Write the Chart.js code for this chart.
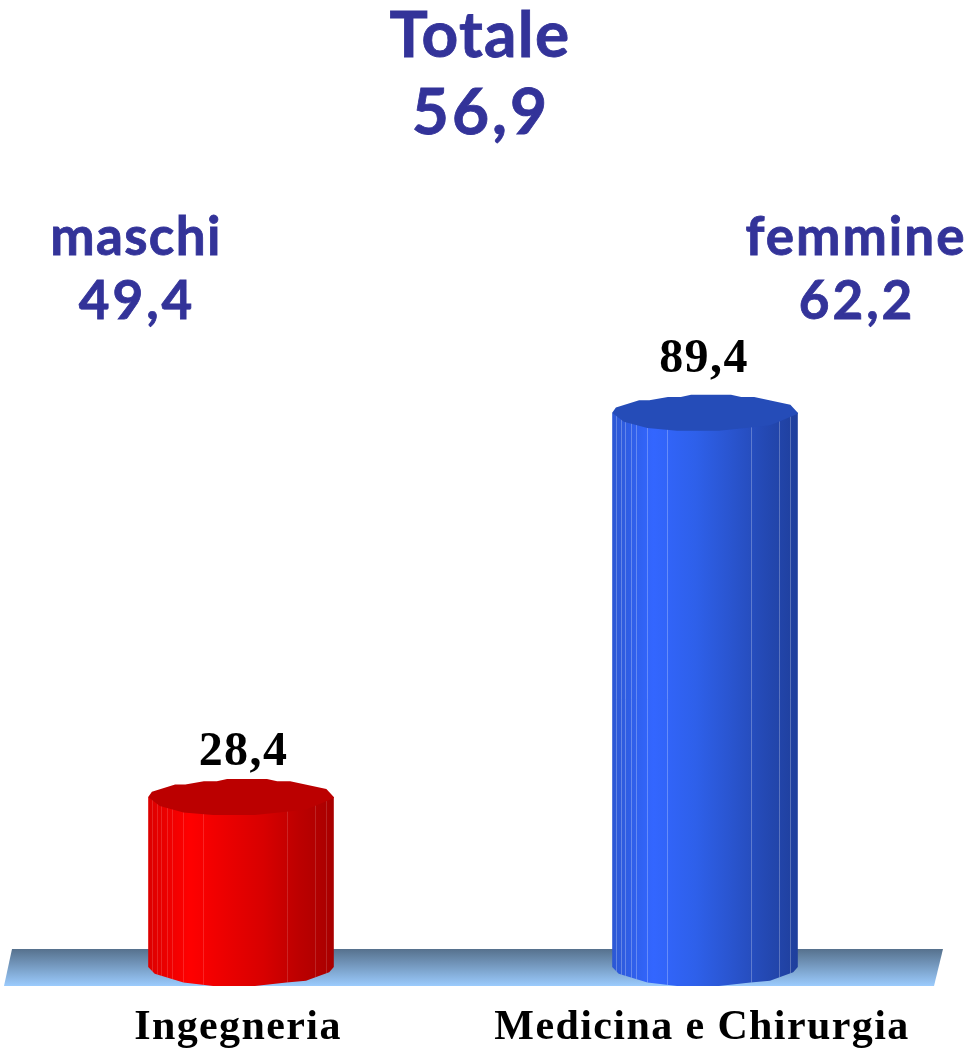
<!DOCTYPE html>
<html lang="it">
<head>
    <meta charset="UTF-8">
    <title>Ingegneria e Medicina e Chirurgia</title>
    <script src="https://cdn.jsdelivr.net/npm/chart.js"></script>
    <style>
        html, body { margin: 0; padding: 0; background: #fff; }
        canvas { display: block; }
    </style>
</head>
<body>
    <canvas id="chart" width="969" height="1052"></canvas>
    <script>
        const categories = ['Ingegneria', 'Medicina e Chirurgia'];
        const values = [28.4, 89.4];
        const barColors = ['#e60000', '#2c5ad8'];

        const summaryLabels = ['Totale', 'maschi', 'femmine'];
        const summaryValues = ['56,9', '49,4', '62,2'];

        // colori delle facce del cilindro, da sinistra a destra
        const faceStops = [
            ['#dc0000', '#ff0000', '#e80000', '#d80000', '#bb0000', '#a80000'],
            ['#2c58d4', '#3366ff', '#2e60ea', '#2a56d2', '#2449b4', '#1f3f9c']
        ];
        const capColors = ['#bb0000', '#254cb8'];
        const stopAt = [0, 0.22, 0.45, 0.62, 0.82, 1];
        const facetLines = [0.02, 0.047, 0.068, 0.1, 0.13, 0.188, 0.296, 0.746, 0.9, 0.96];
        const facetAlpha = [0.14, 0.26];

        // profilo irregolare del disco, in unità del raggio
        const upperEdge = [[-1, 0], [-0.96, -0.3], [-0.71, -0.7], [-0.6, -0.7], [-0.4, -0.88], [-0.26, -0.88], [-0.15, -1], [0.28, -1], [0.39, -0.88], [0.53, -0.88], [0.92, -0.45], [1, 0]];
        const capLowerEdge = [[1, 0.05], [0.77, 0.55], [0.7, 0.69], [0.49, 0.82], [0.15, 1], [-0.3, 1], [-0.62, 0.85], [-0.875, 0.5], [-1, 0]];
        const bodyLowerEdge = [[-1, 0], [-0.93, 0.36], [-0.62, 0.82], [-0.3, 1], [0.15, 1], [0.49, 0.82], [0.7, 0.73], [0.95, 0.27], [1, 0]];

        const capRy = 18;
        const baseLift = 9;
        const floorTop = 949;
        const floorBottom = 986;
        const labelGap = [32, 41];
        const labelShift = [2.5, -1];

        function traceEdge(ctx, edge, cx, cy, rx, ry) {
            edge.forEach(p => ctx.lineTo(cx + p[0] * rx, cy + p[1] * ry));
        }

        function drawCylinder(ctx, bar, index) {
            const rx = bar.width / 2;
            const left = bar.x - rx;
            const baseY = bar.base - baseLift;

            const grad = ctx.createLinearGradient(left, 0, left + bar.width, 0);
            stopAt.forEach((s, i) => grad.addColorStop(s, faceStops[index][i]));

            // corpo
            ctx.beginPath();
            ctx.moveTo(left, bar.y);
            traceEdge(ctx, bodyLowerEdge, bar.x, baseY, rx, capRy + 1);
            ctx.lineTo(left + bar.width, bar.y);
            ctx.closePath();
            ctx.fillStyle = grad;
            ctx.fill();

            // righe chiare delle facce
            ctx.save();
            ctx.clip();
            ctx.strokeStyle = 'rgba(255,255,255,' + facetAlpha[index] + ')';
            ctx.lineWidth = 1;
            facetLines.forEach(f => {
                const x = Math.round(left + f * bar.width) + 0.5;
                ctx.beginPath();
                ctx.moveTo(x, bar.y);
                ctx.lineTo(x, baseY + capRy + 1);
                ctx.stroke();
            });
            ctx.restore();

            // disco superiore
            ctx.beginPath();
            ctx.moveTo(left, bar.y);
            traceEdge(ctx, upperEdge, bar.x, bar.y, rx, capRy);
            traceEdge(ctx, capLowerEdge, bar.x, bar.y, rx, capRy);
            ctx.closePath();
            ctx.fillStyle = capColors[index];
            ctx.fill();
        }

        const cylinderPlugin = {
            id: 'cylinder',
            beforeDraw(chart) {
                chart.ctx.letterSpacing = '1.4px';
            },
            beforeDatasetsDraw(chart) {
                const { ctx, chartArea } = chart;
                // piano azzurro
                const grad = ctx.createLinearGradient(0, floorTop, 0, floorBottom);
                grad.addColorStop(0, '#56718d');
                grad.addColorStop(1, '#9bcbfd');
                ctx.beginPath();
                ctx.moveTo(chartArea.left + 3, floorTop);
                ctx.lineTo(chartArea.right + 6, floorTop);
                ctx.lineTo(chartArea.right - 3, floorBottom);
                ctx.lineTo(chartArea.left - 5, floorBottom);
                ctx.closePath();
                ctx.fillStyle = grad;
                ctx.fill();
            },
            beforeDatasetDraw(chart) {
                const { ctx } = chart;
                chart.getDatasetMeta(0).data.forEach((bar, i) => drawCylinder(ctx, bar, i));
                return false;
            },
            afterDatasetsDraw(chart) {
                const { ctx } = chart;
                // valori sopra le barre
                ctx.save();
                ctx.font = 'bold 48px "Liberation Serif"';
                ctx.letterSpacing = '1.4px';
                ctx.fillStyle = '#000';
                ctx.textAlign = 'center';
                ctx.textBaseline = 'alphabetic';
                chart.getDatasetMeta(0).data.forEach((bar, i) => {
                    ctx.fillText(values[i].toFixed(1).replace('.', ','), bar.x + labelShift[i], bar.y - labelGap[i]);
                });
                // testi in alto
                ctx.fillStyle = '#333399';
                ctx.strokeStyle = '#333399';
                ctx.lineWidth = 0.8;
                const textX = [480, 136, 856];
                summaryLabels.forEach((label, i) => {
                    const y = i === 0 ? 57 : 255;
                    const gap = i === 0 ? 77 : 64;
                    ctx.font = (i === 0 ? 'bold 64px' : 'bold 53px') + ' Lato';
                    ctx.letterSpacing = i === 2 ? '2px' : '1.3px';
                    ctx.fillText(label, textX[i], y);
                    ctx.strokeText(label, textX[i], y);
                    ctx.letterSpacing = '3px';
                    ctx.fillText(summaryValues[i], textX[i] + 1, y + gap);
                    ctx.strokeText(summaryValues[i], textX[i] + 1, y + gap);
                });
                ctx.restore();
            }
        };

        new Chart(document.getElementById('chart'), {
            type: 'bar',
            data: {
                labels: categories,
                datasets: [{
                    data: values,
                    backgroundColor: barColors,
                    barPercentage: 1,
                    categoryPercentage: 0.4
                }]
            },
            options: {
                responsive: false,
                animation: false,
                layout: { padding: { left: 9, right: 32, top: 346 } },
                plugins: { legend: { display: false }, tooltip: { enabled: false } },
                scales: {
                    x: {
                        grid: { display: false },
                        border: { display: false },
                        afterFit(scale) { scale.height = 76; },
                        ticks: {
                            color: '#000',
                            padding: 19,
                            labelOffset: -3,
                            maxRotation: 0,
                            font: { family: '"Liberation Serif"', weight: 'bold', size: 42 }
                        }
                    },
                    y: { display: false, min: 0, max: 100 }
                }
            },
            plugins: [cylinderPlugin]
        });
    </script>
</body>
</html>
